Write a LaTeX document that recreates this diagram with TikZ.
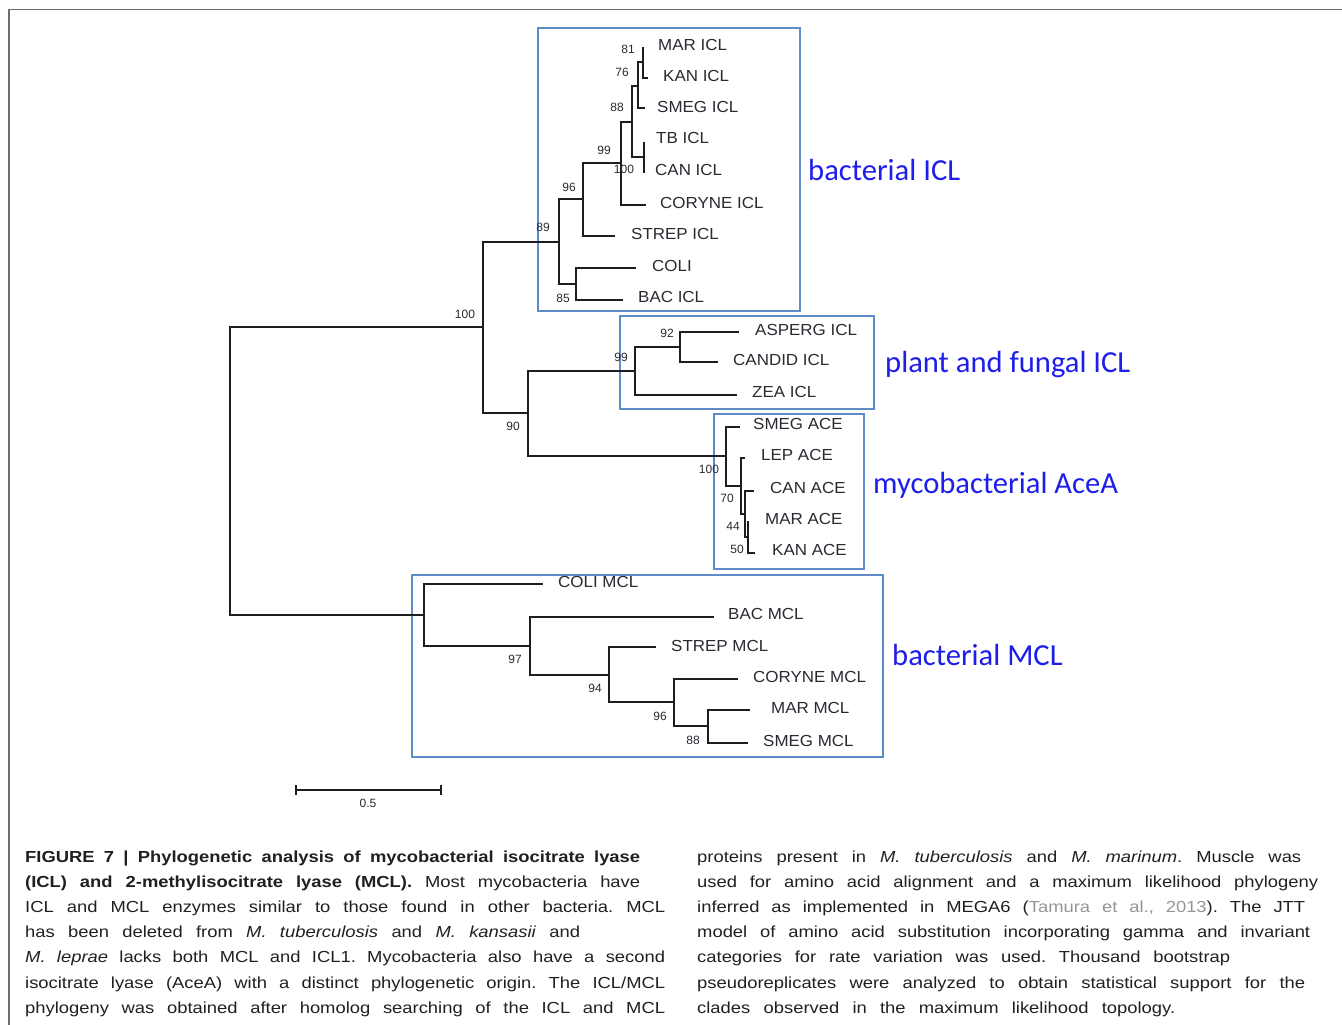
\documentclass[tikz,border=0pt]{standalone}
\usepackage{fontspec}
\setmainfont{Liberation Sans}
\newfontfamily\calib{Carlito}
\newfontfamily\capfont[FakeStretch=1.15]{Liberation Sans}
\newfontfamily\leaffont[FakeStretch=1.06]{Liberation Sans}
\definecolor{boxblue}{RGB}{95,140,200}
\definecolor{labblue}{RGB}{30,30,235}
\definecolor{treeink}{RGB}{30,30,30}
\definecolor{labink}{RGB}{45,40,50}
\definecolor{capink}{RGB}{35,31,32}
\definecolor{citegray}{RGB}{150,150,150}
\definecolor{framegray}{RGB}{110,110,110}
\frenchspacing
\begin{document}
\begin{tikzpicture}[x=1pt,y=-1pt,
  branch/.style={draw=treeink, line width=1.9pt},
  leaf/.style={anchor=west, inner sep=0pt, font=\leaffont\fontsize{16}{16}\selectfont, text=labink},
  boot/.style={inner sep=0pt, font=\fontsize{12}{12}\selectfont, text=labink},
  clade/.style={draw=boxblue, line width=1.3pt},
  cladename/.style={anchor=base west, inner sep=0pt, font=\calib\fontsize{30.6}{30.6}\selectfont, text=labblue},
  capline/.style={anchor=base west, inner sep=0pt, font=\capfont\fontsize{16}{16}\selectfont\frenchspacing, text=capink},
]
\fill[white] (0,0) rectangle (1342,1025);
\useasboundingbox (0,0) rectangle (1342,1025);
% frame
\draw[framegray, line width=1.5pt] (9,1025) -- (9,9.5) -- (1342,9.5);

% clade boxes
\draw[clade] (538,28) rectangle (800,311);
\draw[clade] (620,316) rectangle (874,409);
\draw[clade] (714,414) rectangle (864,569);
\draw[clade] (412,575) rectangle (883,757);

% internal nodes
\coordinate (root) at (230,471);
\coordinate (n100) at (483,327);
\coordinate (nF) at (559,242);
\coordinate (nD) at (583,199);
\coordinate (nC) at (621,163);
\coordinate (nB) at (632,122);
\coordinate (nA) at (638,86);
\coordinate (nMK) at (643,62);
\coordinate (nTC) at (644,157);
\coordinate (nE) at (576,284);
\coordinate (nG) at (528,413);
\coordinate (nH) at (635,371);
\coordinate (nI) at (680,347);
\coordinate (nJ) at (726,456);
\coordinate (nK) at (741,486);
\coordinate (nL) at (745,514);
\coordinate (nM) at (748,537);
\coordinate (nN) at (424,615);
\coordinate (nO) at (530,646);
\coordinate (nP) at (609,675);
\coordinate (nQ) at (674,702);
\coordinate (nR) at (708,726);

% tips
\coordinate (tMARicl) at (643,47);
\coordinate (tKANicl) at (648,78);
\coordinate (tSMEGicl) at (645,108);
\coordinate (tTBicl) at (644,142);
\coordinate (tCANicl) at (644,173);
\coordinate (tCORicl) at (646,205);
\coordinate (tSTRicl) at (615,236);
\coordinate (tCOLI) at (636,268);
\coordinate (tBACicl) at (623,300);
\coordinate (tASP) at (739,332);
\coordinate (tCAND) at (718,362);
\coordinate (tZEA) at (737,395);
\coordinate (tSMEGace) at (740,427);
\coordinate (tLEPace) at (745,458);
\coordinate (tCANace) at (754,491);
\coordinate (tMARace) at (748,521);
\coordinate (tKANace) at (755,553);
\coordinate (tCOLImcl) at (543,584);
\coordinate (tBACmcl) at (714,617);
\coordinate (tSTRmcl) at (656,647);
\coordinate (tCORmcl) at (738,679);
\coordinate (tMARmcl) at (750,710);
\coordinate (tSMEGmcl) at (748,743);

% branches
\draw[branch] (root) |- (n100);
\draw[branch] (root) |- (nN);
\draw[branch] (n100) |- (nF);
\draw[branch] (n100) |- (nG);
\draw[branch] (nF) |- (nD);
\draw[branch] (nF) |- (nE);
\draw[branch] (nD) |- (nC);
\draw[branch] (nD) |- (tSTRicl);
\draw[branch] (nC) |- (nB);
\draw[branch] (nC) |- (tCORicl);
\draw[branch] (nB) |- (nA);
\draw[branch] (nB) |- (nTC);
\draw[branch] (nA) |- (nMK);
\draw[branch] (nA) |- (tSMEGicl);
\draw[branch] (nMK) |- (tMARicl);
\draw[branch] (nMK) |- (tKANicl);
\draw[branch] (nTC) |- (tTBicl);
\draw[branch] (nTC) |- (tCANicl);
\draw[branch] (nE) |- (tCOLI);
\draw[branch] (nE) |- (tBACicl);
\draw[branch] (nG) |- (nH);
\draw[branch] (nG) |- (nJ);
\draw[branch] (nH) |- (nI);
\draw[branch] (nH) |- (tZEA);
\draw[branch] (nI) |- (tASP);
\draw[branch] (nI) |- (tCAND);
\draw[branch] (nJ) |- (tSMEGace);
\draw[branch] (nJ) |- (nK);
\draw[branch] (nK) |- (tLEPace);
\draw[branch] (nK) |- (nL);
\draw[branch] (nL) |- (tCANace);
\draw[branch] (nL) |- (nM);
\draw[branch] (nM) |- (tMARace);
\draw[branch] (nM) |- (tKANace);
\draw[branch] (nN) |- (tCOLImcl);
\draw[branch] (nN) |- (nO);
\draw[branch] (nO) |- (tBACmcl);
\draw[branch] (nO) |- (nP);
\draw[branch] (nP) |- (tSTRmcl);
\draw[branch] (nP) |- (nQ);
\draw[branch] (nQ) |- (tCORmcl);
\draw[branch] (nQ) |- (nR);
\draw[branch] (nR) |- (tMARmcl);
\draw[branch] (nR) |- (tSMEGmcl);

% leaf labels
\node[leaf] (lMARicl) at (658,45) {MAR ICL};
\node[leaf] (lKANicl) at (663,76) {KAN ICL};
\node[leaf] (lSMEGicl) at (657,107) {SMEG ICL};
\node[leaf] (lTBicl) at (656,138) {TB ICL};
\node[leaf] (lCANicl) at (655,170) {CAN ICL};
\node[leaf] (lCORicl) at (660,203) {CORYNE ICL};
\node[leaf] (lSTRicl) at (631,234) {STREP ICL};
\node[leaf] (lCOLI) at (652,266) {COLI};
\node[leaf] (lBACicl) at (638,297) {BAC ICL};
\node[leaf] (lASP) at (755,330) {ASPERG ICL};
\node[leaf] (lCAND) at (733,360) {CANDID ICL};
\node[leaf] (lZEA) at (752,392) {ZEA ICL};
\node[leaf] (lSMEGace) at (753,424) {SMEG ACE};
\node[leaf] (lLEPace) at (761,455) {LEP ACE};
\node[leaf] (lCANace) at (770,488) {CAN ACE};
\node[leaf] (lMARace) at (765,519) {MAR ACE};
\node[leaf] (lKANace) at (772,550) {KAN ACE};
\node[leaf] (lCOLImcl) at (558,582) {COLI MCL};
\node[leaf] (lBACmcl) at (728,614) {BAC MCL};
\node[leaf] (lSTRmcl) at (671,646) {STREP MCL};
\node[leaf] (lCORmcl) at (753,677) {CORYNE MCL};
\node[leaf] (lMARmcl) at (771,708) {MAR MCL};
\node[leaf] (lSMEGmcl) at (763,741) {SMEG MCL};

% bootstrap values
\node[boot] (b81) at (628,49) {81};
\node[boot] (b76) at (622,72) {76};
\node[boot] (b88) at (617,107) {88};
\node[boot] (b99a) at (604,150) {99};
\node[boot] (b100a) at (624,169) {100};
\node[boot] (b96a) at (569,187) {96};
\node[boot] (b89) at (543,227) {89};
\node[boot] (b85) at (563,298) {85};
\node[boot] (b100b) at (465,314) {100};
\node[boot] (b92) at (667,333) {92};
\node[boot] (b99b) at (621,357) {99};
\node[boot] (b90) at (513,426) {90};
\node[boot] (b100c) at (709,469) {100};
\node[boot] (b70) at (727,498) {70};
\node[boot] (b44) at (733,526) {44};
\node[boot] (b50) at (737,549) {50};
\node[boot] (b97) at (515,659) {97};
\node[boot] (b94) at (595,688) {94};
\node[boot] (b96b) at (660,716) {96};
\node[boot] (b88b) at (693,740) {88};

% clade names
\node[cladename] (cBICL) at (808,180) {bacterial ICL};
\node[cladename] (cPF) at (885,372) {plant and fungal ICL};
\node[cladename] (cACE) at (873,493) {mycobacterial AceA};
\node[cladename] (cBMCL) at (892,665) {bacterial MCL};

% scale bar
\coordinate (sbL) at (296,790);
\coordinate (sbR) at (441,790);
\draw[branch] (sbL) -- (sbR);
\draw[branch] ([yshift=5pt]sbL) -- ([yshift=-5pt]sbL);
\draw[branch] ([yshift=5pt]sbR) -- ([yshift=-5pt]sbR);
\node[boot] (sbLabel) at (368,803) {0.5};

% caption, column 1
\node[capline] (k1) at (25,862) {\makebox[615pt][s]{\bfseries FIGURE 7 | Phylogenetic analysis of mycobacterial isocitrate lyase}};
\node[capline] (k2) at (25,887) {\makebox[615pt][s]{{\bfseries (ICL) and 2-methylisocitrate lyase (MCL).} Most mycobacteria have}};
\node[capline] (k3) at (25,912) {\makebox[640pt][s]{ICL and MCL enzymes similar to those found in other bacteria. MCL}};
\node[capline] (k4) at (25,937) {\makebox[555pt][s]{has been deleted from \textit{M. tuberculosis} and \textit{M. kansasii} and}};
\node[capline] (k5) at (25,962) {\makebox[640pt][s]{\textit{M. leprae} lacks both MCL and ICL1. Mycobacteria also have a second}};
\node[capline] (k6) at (25,988) {\makebox[640pt][s]{isocitrate lyase (AceA) with a distinct phylogenetic origin. The ICL/MCL}};
\node[capline] (k7) at (25,1013) {\makebox[640pt][s]{phylogeny was obtained after homolog searching of the ICL and MCL}};
% caption, column 2
\node[capline] (m1) at (697,862) {\makebox[604pt][s]{proteins present in \textit{M. tuberculosis} and \textit{M. marinum}. Muscle was}};
\node[capline] (m2) at (697,887) {\makebox[621pt][s]{used for amino acid alignment and a maximum likelihood phylogeny}};
\node[capline] (m3) at (697,912) {\makebox[608pt][s]{inferred as implemented in MEGA6 ({\color{citegray}Tamura et al., 2013}). The JTT}};
\node[capline] (m4) at (697,937) {\makebox[613pt][s]{model of amino acid substitution incorporating gamma and invariant}};
\node[capline] (m5) at (697,962) {\makebox[533pt][s]{categories for rate variation was used. Thousand bootstrap}};
\node[capline] (m6) at (697,988) {\makebox[608pt][s]{pseudoreplicates were analyzed to obtain statistical support for the}};
\node[capline] (m7) at (697,1013) {\makebox[478pt][s]{clades observed in the maximum likelihood topology.}};
\end{tikzpicture}
\end{document}
